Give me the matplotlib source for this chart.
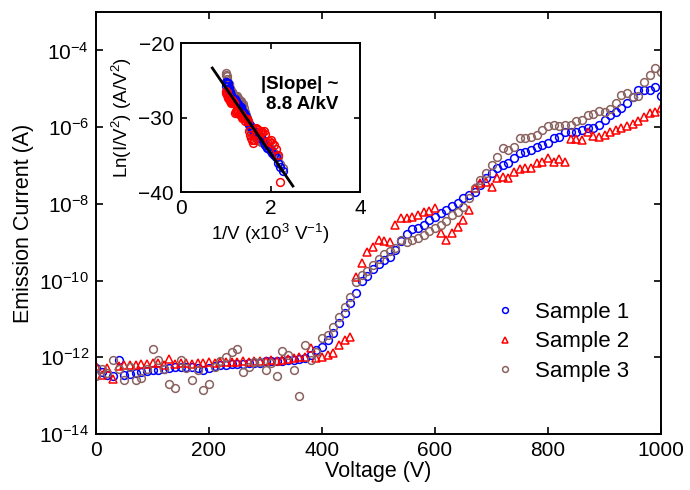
import numpy as np
import matplotlib
matplotlib.use('Agg')
import matplotlib.pyplot as plt
from matplotlib.lines import Line2D

plt.rcParams['font.family'] = ['Liberation Sans', 'DejaVu Sans']
plt.rcParams['mathtext.fontset'] = 'custom'
plt.rcParams['mathtext.rm'] = 'Liberation Sans'
plt.rcParams['mathtext.it'] = 'Liberation Sans:italic'
plt.rcParams['mathtext.bf'] = 'Liberation Sans:bold'
plt.rcParams['mathtext.default'] = 'regular'

# ---------------- data ----------------
voltage = list(range(0, 1001, 10))  # V, measurement sweep

# log10 of emission current (A)
sample1_log = [
    -12.29, -12.38, -12.45, -12.50, -12.07, -12.46, -12.44, -12.40, -12.38, -12.36,
    -12.33, -12.32, -12.30, -12.28, -12.26, -12.26, -12.26, -12.26, -12.28, -12.32,
    -12.29, -12.24, -12.20, -12.20, -12.18, -12.18, -12.18, -12.16, -12.14, -12.14,
    -12.11, -12.11, -12.11, -12.11, -12.07, -12.07, -12.05, -12.03, -11.94, -11.82,
    -11.72, -11.55, -11.37, -11.10, -10.85, -10.59, -10.33, -10.00, -9.88, -9.70,
    -9.56, -9.47, -9.38, -9.20, -8.98, -8.78, -8.65, -8.62, -8.55, -8.42,
    -8.34, -8.24, -8.15, -8.06, -7.98, -7.85, -7.77, -7.68, -7.50, -7.32,
    -7.20, -7.07, -7.00, -6.94, -6.80, -6.67, -6.64, -6.60, -6.52, -6.47,
    -6.41, -6.29, -6.26, -6.14, -6.13, -6.13, -6.08, -6.02, -6.02, -5.95,
    -5.81, -5.68, -5.60, -5.50, -5.37, -5.22, -5.03, -5.03, -5.03, -4.95,
    -5.20]
sample2_log = [
    -12.24, -12.46, -12.29, -12.56, -12.24, -12.20, -12.20, -12.20, -12.18, -12.18,
    -12.15, -12.15, -12.20, -12.05, -12.18, -12.16, -12.16, -12.18, -12.15, -12.15,
    -12.13, -12.15, -12.13, -12.13, -12.12, -12.12, -12.10, -12.12, -12.10, -12.10,
    -12.10, -12.08, -12.10, -12.07, -12.05, -12.03, -12.00, -11.98, -11.76, -12.02,
    -12.00, -11.95, -11.89, -11.68, -11.55, -11.48, -9.90, -9.54, -9.26, -9.12,
    -8.94, -8.98, -9.00, -8.55, -8.37, -8.37, -8.34, -8.30, -8.21, -8.18,
    -8.11, -8.76, -8.94, -8.76, -8.60, -8.42, -8.16, -7.60, -7.45, -7.42,
    -7.55, -7.33, -7.30, -7.32, -7.17, -7.08, -7.06, -7.06, -6.94, -6.90,
    -6.80, -6.90, -6.82, -6.90, -6.32, -6.32, -6.34, -6.13, -6.22, -6.26,
    -6.21, -6.13, -6.08, -6.02, -5.97, -5.92, -5.83, -5.73, -5.63, -5.60,
    -5.50]
sample3_log = [
    -12.49, -12.30, -12.40, -12.07, -12.30, -12.59, -12.25, -12.59, -12.54, -12.30,
    -11.78, -12.07, -12.30, -12.69, -12.80, -12.07, -12.28, -12.59, -12.33, -12.85,
    -12.69, -12.25, -12.10, -12.00, -11.86, -11.78, -12.38, -12.25, -12.12, -12.12,
    -12.33, -12.15, -12.49, -11.84, -11.94, -12.33, -13.00, -11.68, -12.07, -11.86,
    -11.50, -11.42, -11.21, -10.95, -10.69, -10.43, -10.03, -9.85, -9.75, -9.60,
    -9.45, -9.30, -9.22, -9.15, -8.94, -9.00, -8.95, -8.89, -8.82, -8.72,
    -8.63, -8.55, -8.45, -8.30, -8.22, -8.08, -7.84, -7.60, -7.38, -7.20,
    -6.99, -6.78, -6.55, -6.60, -6.52, -6.29, -6.29, -6.25, -6.21, -6.08,
    -5.97, -5.94, -5.97, -5.95, -5.94, -5.84, -5.82, -5.68, -5.66, -5.58,
    -5.60, -5.53, -5.37, -5.16, -5.11, -5.21, -5.20, -4.82, -4.64, -4.46,
    -4.56]

series_names = ['Sample 1', 'Sample 2', 'Sample 3']
series_logs = [sample1_log, sample2_log, sample3_log]
series_markers = ['o', '^', 'o']
series_colors = ['#0000ff', '#ff0000', '#8a6260']

# Fowler-Nordheim inset: points above this voltage, fit line
inset_min_voltage = [440, 450, 440]
fit_slope = -8.8
fit_intercept = -17.2
fit_x = [0.7, 2.5]

x_ticks = [0, 200, 400, 600, 800, 1000]
y_exponents = [-14, -12, -10, -8, -6, -4]

# ---------------- figure ----------------
W, H = 690, 490
fig = plt.figure(figsize=(W / 100, H / 100), dpi=100)
ax = fig.add_axes([96 / W, (H - 434) / H, 565 / W, 422 / H])

V = np.array(voltage, dtype=float)
for name, lg, mk, col in zip(series_names, series_logs, series_markers, series_colors):
    ax.plot(V, 10.0 ** np.array(lg), linestyle='none', marker=mk,
            mfc='none', mec=col, ms=5.6, mew=1.1, label=name)

ax.set_yscale('log')
ax.set_xlim(0, 1000)
ax.set_ylim(1e-14, 1e-3)
ax.set_xticks(x_ticks)
ax.set_xticklabels([str(t) for t in x_ticks])
ax.set_yticks([10.0 ** e for e in y_exponents])
ax.set_yticklabels([r'$10^{%d}$' % e for e in y_exponents])
ax.yaxis.set_minor_locator(matplotlib.ticker.NullLocator())
ax.tick_params(direction='in', top=True, right=True, length=5, width=1.2,
               labelsize=15, pad=5)
for s in ax.spines.values():
    s.set_linewidth(1.4)
ax.set_xlabel('Voltage (V)', fontsize=15.5, labelpad=1)
ax.set_ylabel('Emission Current (A)', fontsize=15.5, labelpad=4)

handles = [Line2D([], [], linestyle='none', marker=mk, mfc='none', mec=col,
                  ms=4.2, mew=1.1) for mk, col in zip(series_markers, series_colors)]
ax.legend(handles, series_names, loc='upper left', bbox_to_anchor=(0.701, 0.313),
          frameon=False, fontsize=16, handlelength=1.2, handletextpad=0.73,
          labelspacing=0.38, borderaxespad=0, borderpad=0)

# ---------------- inset ----------------
ax2 = fig.add_axes([181 / W, (H - 192) / H, 179 / W, 149 / H])
inset_order = [2, 0, 1]
for i in inset_order:
    I = 10.0 ** np.array(series_logs[i])
    m = V >= inset_min_voltage[i]
    xi = 1000.0 / V[m]
    yi = np.log(I[m] / V[m] ** 2)
    ax2.plot(xi, yi, linestyle='none', marker='o', mfc='none',
             mec=series_colors[i], ms=5.6, mew=1.1)
fx = np.array(fit_x)
ax2.plot(fx, fit_slope * fx + fit_intercept, color='black', lw=2)
ax2.text(3.52, -26.9, '|Slope| ~\n8.8 A/kV', ha='right', va='center',
         multialignment='right', fontsize=13.5, fontweight='bold')
ax2.set_xlim(0, 4)
ax2.set_ylim(-40, -20)
ax2.set_xticks([0, 2, 4])
ax2.set_yticks([-40, -30, -20])
ax2.tick_params(direction='in', top=True, right=True, length=4, width=1.2,
                labelsize=15, pad=5)
for s in ax2.spines.values():
    s.set_linewidth(1.4)
ax2.set_xlabel(r'1/V (x10$^3$ V$^{-1}$)', fontsize=13.5, labelpad=3)
ax2.set_ylabel(r'Ln(I/V$^2$) (A/V$^2$)', fontsize=13.5, labelpad=3)

fig.savefig('out.png', dpi=100)
